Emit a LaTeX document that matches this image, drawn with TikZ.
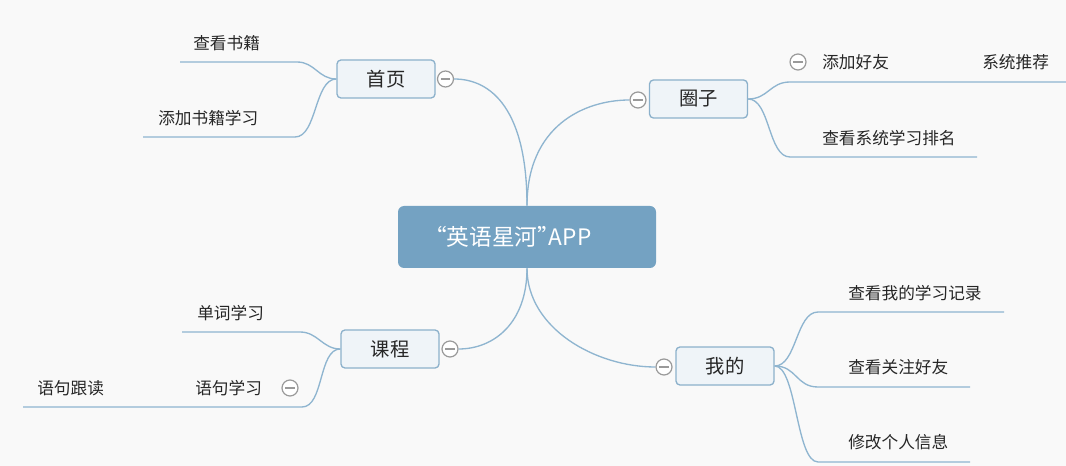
\documentclass[tikz,border=0pt]{standalone}
\usepackage{fontspec}
\newfontfamily\cjk{Noto Sans CJK SC}
\usetikzlibrary{calc}
\definecolor{mmBg}{HTML}{F9F9F9}
\definecolor{mmRoot}{HTML}{74A2C2}
\definecolor{mmLine}{HTML}{8FB5D0}
\definecolor{mmBox}{HTML}{EFF4F8}
\definecolor{mmEdge}{HTML}{8CB1CB}
\definecolor{mmText}{HTML}{262626}
\definecolor{mmTog}{HTML}{9A9A9A}
\begin{document}
\begin{tikzpicture}[x=0.75pt, y=-0.75pt,
  root/.style={fill=mmRoot, rounded corners=4.5pt, minimum width=193.5pt, minimum height=46.5pt, text=white, font=\cjk\fontsize{17}{19}\selectfont},
  topic/.style={draw=mmEdge, line width=1pt, fill=mmBox, rounded corners=3pt, minimum width=73.5pt, minimum height=28.5pt, text=mmText, font=\cjk\fontsize{14.5}{16}\selectfont},
  leaf/.style={anchor=west, inner sep=0pt, text=mmText, font=\cjk\fontsize{12.5}{14}\selectfont},
  link/.style={draw=mmLine, line width=1pt},
  tog/.style={circle, draw=mmTog, fill=white, line width=0.9pt, inner sep=0pt, minimum size=12pt,
    path picture={\draw[mmTog, line width=0.9pt] ([xshift=2.5pt]path picture bounding box.west) -- ([xshift=-2.5pt]path picture bounding box.east);}}]
\useasboundingbox (0,0) rectangle (1066,466);
\fill[mmBg] (0,0) rectangle (1066,466);

% centre and main topics
\node[root] (root) at (527,237) {\kern-0.4em“英语星河”\kern-0.5em APP\hspace*{22pt}};
\node[topic] (home) at (386,79) {首页};
\node[topic] (circ) at (698.5,99) {圈子};
\node[topic] (course) at (390,349) {课程};
\node[topic] (mine) at (725,366) {我的};
\node[tog] (homeT) at (445.5,79) {};
\node[tog] (circT) at (638,100) {};
\node[tog] (courseT) at (450,349) {};
\node[tog] (mineT) at (664,367) {};

\draw[link] (root.north) .. controls +(0,-95) and +(38,0) .. (homeT.east);
\draw[link] (root.north) .. controls +(0,-80) and +(-45,0) .. (circT.west);
\draw[link] (root.south) .. controls +(0,55) and +(35,0) .. (courseT.east);
\draw[link] (root.south) .. controls +(0,60) and +(-60,0) .. (mineT.west);

% leaves
\node[leaf] (viewBooks) at (193,43) {查看书籍};
\node[leaf] (addBooks) at (158,118) {添加书籍学习};
\node[leaf] (addFriend) at (822,62) {添加好友};
\node[tog] (addFriendT) at (798,62) {};
\node[leaf] (sysRec) at (982,62) {系统推荐};
\node[leaf] (rank) at (822,138) {查看系统学习排名};
\node[leaf] (word) at (197,313) {单词学习};
\node[leaf] (sentence) at (195,388) {语句学习};
\node[tog] (sentenceT) at (290,388) {};
\node[leaf] (readAlong) at (37,388) {语句跟读};
\node[leaf] (record) at (848,293) {查看我的学习记录};
\node[leaf] (follow) at (848,367) {查看关注好友};
\node[leaf] (profile) at (848,442) {修改个人信息};

% underline ends
\coordinate (viewBooksL) at (180,62);   \coordinate (viewBooksR) at (297,62);
\coordinate (addBooksL) at (143,137);   \coordinate (addBooksR) at (295,137);
\coordinate (addFriendL) at (790,82);   \coordinate (addFriendR) at (962,82);
\coordinate (sysRecR) at (1066,82);
\coordinate (rankL) at (790,157);       \coordinate (rankR) at (977,157);
\coordinate (wordL) at (182,332);       \coordinate (wordR) at (300,332);
\coordinate (sentenceL) at (180,407);   \coordinate (sentenceR) at (302,407);
\coordinate (readAlongL) at (23,407);
\coordinate (recordL) at (818,312);     \coordinate (recordR) at (1004,312);
\coordinate (followL) at (818,387);     \coordinate (followR) at (970,387);
\coordinate (profileL) at (818,462);    \coordinate (profileR) at (970,462);

\draw[link] (home.west) .. controls +(-18,0) and +(18,0) .. (viewBooksR) -- (viewBooksL);
\draw[link] (home.west) .. controls +(-22,0) and +(22,0) .. (addBooksR) -- (addBooksL);
\draw[link] (circ.east) .. controls +(20,0) and +(-20,0) .. (addFriendL) -- (addFriendR) -- (sysRecR);
\draw[link] (circ.east) .. controls +(22,0) and +(-22,0) .. (rankL) -- (rankR);
\draw[link] (course.west) .. controls +(-18,0) and +(18,0) .. (wordR) -- (wordL);
\draw[link] (course.west) .. controls +(-22,0) and +(22,0) .. (sentenceR) -- (sentenceL) -- (readAlongL);
\foreach \t in {record,follow,profile}{
  \draw[link] (mine.east) .. controls +(22,0) and +(-22,0) .. (\t L) -- (\t R);}
\end{tikzpicture}
\end{document}
